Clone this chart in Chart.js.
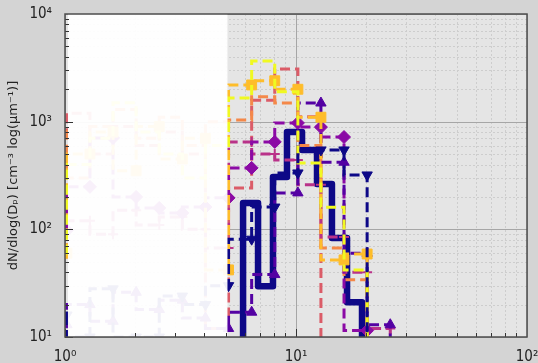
<!DOCTYPE html>
<html><head><meta charset="utf-8">
<script src="https://cdn.jsdelivr.net/npm/chart.js@4"></script>
<style>html,body{margin:0;padding:0;background:#d4d4d4;overflow:hidden}</style>
</head><body>
<canvas id="c" width="538" height="363"></canvas>
<script>
// ---- data ----
const binEdges   = [1.019, 1.282, 1.614, 2.032, 2.559, 3.221, 4.055, 5.105, 6.427, 8.091, 10.19, 12.82, 16.14, 20.32, 25.59, 32.21];
const navyVals   = [16, 10, 28, 10, 10, 24, 20, 30, 81, 161, 334, 546, 546, 320, 1, null];
const indigoVals = [13, 20, 14, 26, 18, 22, 15, 12, 17, 38, 218, 1490, 420, 60, 13, 1];
const purpleVals = [98, 248, 706, 200, 158, 142, 161, 196, 372, 649, 973, 890, 720, 11.5, 1, null];
const magentaVals= [60, 120, 90, 150, 110, 130, 100, 67, 649, 500, 440, 260, 85, 40, 12, 1];
const pinkVals   = [700, 1200, 500, 900, 600, 800, 500, 12, 242, 1585, 3085, 1108, 5, null, null, null];
const orangeVals = [840, 300, 900, 1300, 700, 1100, 600, 1000, 1037, 1700, 1490, 600, 67, 34, 1, null];
const amberVals  = [60, 500, 800, 350, 900, 450, 700, 42, 2194, 2400, 2000, 1100, 52, 59, 1, null];
const yellowVals = [58, 400, 700, 1500, 800, 500, 300, 600, 1660, 3664, 1900, 414, 160, 42, 1, null];
const thickEdges = [5.90, 6.85, 7.95, 9.14, 10.62, 12.33, 14.31, 16.63, 19.31, 22.42];
const thickVals  = [1, 176, 29.6, 307, 802, 546, 264, 83, 21, 1];
const xTickVals = [1, 10, 100];
const xTickLabels = ['10\u2070', '10\u00b9', '10\u00b2'];
const yTickVals = [10, 100, 1000, 10000];
const yTickLabels = ['10\u00b9', '10\u00b2', '10\u00b3', '10\u2074'];
const yTitle = 'dN/dlog(D\u209a) [cm\u207b\u00b3 log(\u03bcm\u207b\u00b9)]';
const maskRange = [1.03, 5.05];

// ---- styles ----
const FONT = "'Liberation Sans Narrow', 'DejaVu Sans Condensed', 'DejaVu Sans', sans-serif";
const TFONT = "'DejaVu Sans', sans-serif";
const styles = [
  {vals: navyVals,    color: '#0d0887', pt: 'triangle', rot: 180, r: 6,   order: 2},
  {vals: indigoVals,  color: '#5402a3', pt: 'triangle', rot: 0,   r: 6,   order: 5},
  {vals: purpleVals,  color: '#8b0aa5', pt: 'rectRot',  rot: 0,   r: 6.5, order: 6},
  {vals: magentaVals, color: '#b93289', pt: 'cross',    rot: 0,   r: 5,   order: 7},
  {vals: pinkVals,    color: '#db5c68', pt: null,       rot: 0,   r: 0,   order: 9},
  {vals: orangeVals,  color: '#f48849', pt: null,       rot: 0,   r: 0,   order: 8},
  {vals: amberVals,   color: '#febd2a', pt: 'rect',     rot: 0,   r: 7,   order: 4},
  {vals: yellowVals,  color: '#f0f921', pt: null,       rot: 0,   r: 0,   order: 3}
];
function buildPoints(edges, vals) {
  const pts = [];
  vals.forEach((v, i) => { if (v !== null) pts.push({x: edges[i], y: v}); });
  return pts;
}
const datasets = styles.map(s => ({
  data: buildPoints(binEdges, s.vals),
  borderColor: s.color, backgroundColor: s.color,
  borderWidth: 3, borderDash: [10, 5], stepped: 'after',
  pointStyle: s.pt || 'circle', pointRadius: s.pt ? s.r : 0, pointRotation: s.rot,
  pointBackgroundColor: s.color, pointBorderColor: s.color,
  pointBorderWidth: s.pt === 'cross' ? 2 : 1, fill: false, order: s.order
}));
datasets.push({
  data: buildPoints(thickEdges, thickVals),
  borderColor: '#0d0887', backgroundColor: '#0d0887', borderWidth: 6.5,
  stepped: 'after', pointRadius: 0, fill: false, order: 50, borderJoinStyle: 'round'
});

const decor = {
  id: 'decor',
  beforeDraw(chart) {
    const c = chart.ctx, a = chart.chartArea, xs = chart.scales.x, ys = chart.scales.y;
    c.save();
    c.fillStyle = '#d4d4d4'; c.fillRect(0, 0, chart.width, chart.height);
    c.fillStyle = '#e5e5e5'; c.fillRect(a.left, a.top, a.right - a.left, a.bottom - a.top);
    c.strokeStyle = '#cdcdcd'; c.lineWidth = 1; c.setLineDash([2, 2]);
    for (let k = 0; k < 2; k++) for (let m = 2; m < 10; m++) {
      const px = Math.round(xs.getPixelForValue(m * Math.pow(10, k))) + 0.5;
      c.beginPath(); c.moveTo(px, a.top); c.lineTo(px, a.bottom); c.stroke();
    }
    for (let k = 1; k < 4; k++) for (let m = 2; m < 10; m++) {
      const py = Math.round(ys.getPixelForValue(m * Math.pow(10, k))) + 0.5;
      c.beginPath(); c.moveTo(a.left, py); c.lineTo(a.right, py); c.stroke();
    }
    c.setLineDash([]); c.strokeStyle = '#a6a6a6'; c.lineWidth = 1;
    xTickVals.forEach(v => { const px = Math.round(xs.getPixelForValue(v)) + 0.5; c.beginPath(); c.moveTo(px, a.top); c.lineTo(px, a.bottom); c.stroke(); });
    yTickVals.forEach(v => { const py = Math.round(ys.getPixelForValue(v)) + 0.5; c.beginPath(); c.moveTo(a.left, py); c.lineTo(a.right, py); c.stroke(); });
    c.restore();
  },
  afterDatasetsDraw(chart) {
    const c = chart.ctx, a = chart.chartArea, xs = chart.scales.x, ys = chart.scales.y;
    c.save();
    const x0 = xs.getPixelForValue(maskRange[0]), x1 = xs.getPixelForValue(maskRange[1]);
    c.fillStyle = 'rgba(255,255,255,0.94)';
    c.fillRect(x0, a.top, x1 - x0, a.bottom - a.top);
    c.strokeStyle = '#333'; c.lineWidth = 1;
    for (let k = 0; k < 2; k++) for (let m = 1; m < 10; m++) {
      const px = Math.round(xs.getPixelForValue(m * Math.pow(10, k))) + 0.5;
      const len = m === 1 ? 8 : 4;
      c.beginPath(); c.moveTo(px, a.bottom); c.lineTo(px, a.bottom - len); c.stroke();
    }
    for (let k = 1; k < 4; k++) for (let m = 1; m < 10; m++) {
      const py = Math.round(ys.getPixelForValue(m * Math.pow(10, k))) + 0.5;
      const len = m === 1 ? 8 : 4;
      c.beginPath(); c.moveTo(a.left, py); c.lineTo(a.left + len, py); c.stroke();
    }
    c.strokeStyle = '#4d4d4d'; c.lineWidth = 1.5;
    c.strokeRect(a.left, a.top, a.right - a.left, a.bottom - a.top);
    c.restore();
  }
};

new Chart(document.getElementById('c'), {
  type: 'line',
  data: {datasets},
  options: {
    responsive: false, animation: false, devicePixelRatio: 1, events: [],
    layout: {padding: {left: 0, top: 14, right: 11, bottom: 0}},
    plugins: {legend: {display: false}, tooltip: {enabled: false}},
    scales: {
      x: {
        type: 'logarithmic', min: 1, max: 100,
        afterBuildTicks: s => { s.ticks = xTickVals.map(v => ({value: v})); },
        afterFit: s => { s.height = 26; s.paddingLeft = 0; s.paddingRight = 0; },
        ticks: {callback: v => xTickLabels[xTickVals.indexOf(v)], autoSkip: false, maxRotation: 0,
                font: {family: FONT, size: 15}, color: '#222', padding: 3},
        grid: {display: false}, border: {display: false}
      },
      y: {
        type: 'logarithmic', min: 10, max: 10000,
        afterBuildTicks: s => { s.ticks = yTickVals.map(v => ({value: v})); },
        afterFit: s => { s.width = 65; s.paddingTop = 0; s.paddingBottom = 0; },
        ticks: {callback: v => yTickLabels[yTickVals.indexOf(v)], autoSkip: false,
                font: {family: FONT, size: 15}, color: '#222', padding: 5},
        grid: {display: false}, border: {display: false},
        title: {display: true, text: yTitle, font: {family: TFONT, size: 13}, color: '#222', padding: {top: 6, bottom: 2}}
      }
    }
  },
  plugins: [decor]
});
</script>
</body></html>
